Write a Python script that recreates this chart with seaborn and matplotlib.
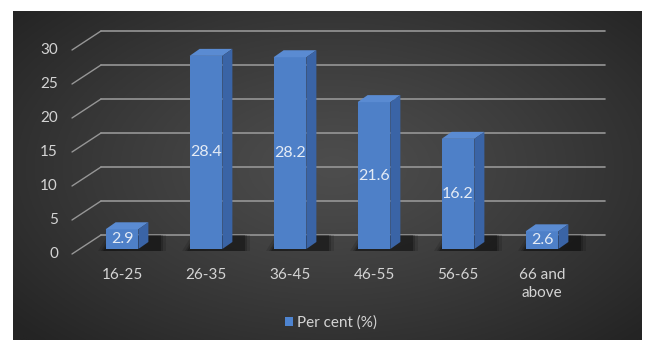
import numpy as np
import pandas as pd
import matplotlib
matplotlib.use("Agg")
import matplotlib.pyplot as plt
from matplotlib.patches import Polygon, Rectangle
from matplotlib.lines import Line2D
import seaborn as sns

# Age-group distribution of respondents
age_groups = ["16-25", "26-35", "36-45", "46-55", "56-65", "66 and\nabove"]
per_cent = [2.9, 28.4, 28.2, 21.6, 16.2, 2.6]
y_ticks = [0, 5, 10, 15, 20, 25, 30]
series_name = "Per cent (%)"

df = pd.DataFrame({"age": age_groups, "pct": per_cent})

sns.set_theme(style="white")
plt.rcParams["font.family"] = ["Lato", "DejaVu Sans"]

W, H = 647, 340
fig = plt.figure(figsize=(W / 100, H / 100), dpi=100)
fig.patch.set_facecolor("white")

# dark radial-gradient panel
bg = fig.add_axes([13 / W, 0, (642 - 13) / W, (H - 11) / H])
bg.set_axis_off()
gx, gy = np.meshgrid(np.linspace(-1, 1, 400), np.linspace(-1, 1, 220))
r = np.sqrt(((gx - 0.02) / 1.0) ** 2 + ((gy + 0.05) / 1.1) ** 2)
r = np.clip(r / 1.35, 0, 1)
c_in = np.array([0x4d, 0x4d, 0x4d]) / 255
c_out = np.array([0x24, 0x24, 0x24]) / 255
img = c_in[None, None, :] * (1 - r[..., None] ** 1.2) + c_out[None, None, :] * (r[..., None] ** 1.2)
bg.imshow(img, aspect="auto", extent=[0, 1, 0, 1])
bg.set_xlim(0, 1)
bg.set_ylim(0, 1)

# main plotting axes (front plane of the bars)
ax = fig.add_axes([80 / W, 91 / H, 504 / W, 204 / H])
ax.patch.set_alpha(0)
front = "#4e80c8"
sns.barplot(data=df, x="age", y="pct", color=front, saturation=1, width=0.39, ax=ax,
            linewidth=0, edgecolor="none", zorder=3)
ax.set_xlim(-0.5, 5.5)
ax.set_ylim(0, 30)
for s in ax.spines.values():
    s.set_visible(False)
ax.set_xlabel("")
ax.set_ylabel("")
ax.set_yticks([])

# pixel -> data conversions
px_x = 6.0 / 504
px_y = 30.0 / 204

grid_col = "#969696"
# back wall offset and front plane offset (pixels)
bw_dx, bw_dy = 21, 14
fp_dx, fp_dy = -8, -5
for v in y_ticks:
    yb = v + bw_dy * px_y
    ax.add_line(Line2D([-0.5 + bw_dx * px_x, 5.5 + bw_dx * px_x], [yb, yb],
                       color=grid_col, lw=1.2, clip_on=False, zorder=1))
    ax.add_line(Line2D([-0.5 + fp_dx * px_x, -0.5 + bw_dx * px_x],
                       [v + fp_dy * px_y, yb],
                       color=grid_col, lw=1.0, clip_on=False, zorder=1))
    ax.text(-0.5 - 22 * px_x, v + fp_dy * px_y, str(v), ha="right", va="center",
            color="#d4d4d4", fontsize=11, clip_on=False)

# 3-D faces on each bar: shadow, top and side
dx, dy = 10 * px_x, 7 * px_y
for p in ax.patches:
    x0, w, h = p.get_x(), p.get_width(), p.get_height()
    x1 = x0 + w
    # floor shadow
    for k, a in enumerate([0.12, 0.18, 0.28]):
        grow = (3 - k) * 2.5 * px_x
        ax.add_patch(Polygon([(x0 - grow, -1.5 * px_y), (x1 + 2 * dx + grow, -1.5 * px_y),
                              (x1 + 2 * dx + grow, 2 * dy), (x0 + dx - grow, 2 * dy)],
                             closed=True, facecolor="black", edgecolor="none",
                             alpha=a, zorder=2, clip_on=False))
    ax.add_patch(Polygon([(x0, h), (x1, h), (x1 + dx, h + dy), (x0 + dx, h + dy)],
                         closed=True, facecolor="#5a8bd2", edgecolor="none", zorder=3, clip_on=False))
    ax.add_patch(Polygon([(x1, 0), (x1 + dx, dy), (x1 + dx, h + dy), (x1, h)],
                         closed=True, facecolor="#3a64a6", edgecolor="none", zorder=3, clip_on=False))

# value labels in the middle of each bar
ax.bar_label(ax.containers[0], labels=[f"{v:.1f}" for v in per_cent], label_type="center",
             color="#e4ebf5", fontsize=11.5, zorder=5)

ax.tick_params(axis="x", length=0, pad=14, labelsize=11, labelcolor="#d4d4d4")
for t in ax.get_xticklabels():
    t.set_linespacing(1.3)

# legend
handle = Rectangle((0, 0), 1, 1, facecolor="#4e84d0", edgecolor="none")
leg = fig.legend([handle], [series_name], loc="center", bbox_to_anchor=(331 / W, 1 - 323 / H),
                 frameon=False, fontsize=11, labelcolor="#d4d4d4",
                 handlelength=0.55, handleheight=0.55, handletextpad=0.3)

fig.savefig("out.png", dpi=100)
